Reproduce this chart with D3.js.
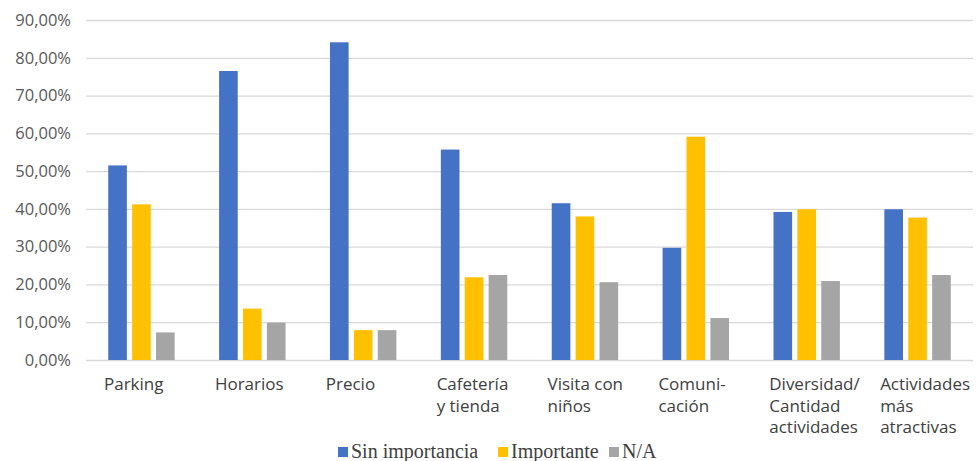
<!DOCTYPE html>
<html>
<head>
<meta charset="utf-8">
<script src="https://cdn.jsdelivr.net/npm/d3@7"></script>
<style>
  html, body { margin: 0; padding: 0; background: #fff; }
  svg { display: block; }
</style>
</head>
<body>
<svg id="chart" width="979" height="461"></svg>
<script>
// Category labels, one entry per text line
const categories = [
  ["Parking"],
  ["Horarios"],
  ["Precio"],
  ["Cafetería", "y tienda"],
  ["Visita con", "niños"],
  ["Comuni-", "cación"],
  ["Diversidad/", "Cantidad", "actividades"],
  ["Actividades", "más", "atractivas"]
];
const seriesNames = ["Sin importancia", "Importante", "N/A"];
const sinImportancia = [51.5, 76.5, 84.1, 55.7, 41.5, 29.7, 39.2, 39.9];
const importante     = [41.2, 13.6,  7.9, 21.9, 38.0, 59.1, 39.9, 37.7];
const noAplica       = [ 7.3,  9.9,  7.9, 22.5, 20.6, 11.1, 20.9, 22.5];
const yTicks = [0, 10, 20, 30, 40, 50, 60, 70, 80, 90];
const colors = ["#4472C4", "#FFC000", "#A5A5A5"];

const series = [sinImportancia, importante, noAplica];
const svg = d3.select("#chart");
const plot = { left: 86, right: 973, top: 20, bottom: 360 };
const sansFont = "'Open Sans', Lato, sans-serif";

const x = d3.scaleBand()
  .domain(d3.range(categories.length))
  .range([plot.left, plot.right])
  .paddingInner(0)
  .paddingOuter(0);

const inner = d3.scaleBand()
  .domain(d3.range(series.length))
  .range([0, x.bandwidth()])
  .paddingInner(0.22)
  .paddingOuter(0.93);

const y = d3.scaleLinear().domain([0, 90]).range([plot.bottom, plot.top]);

// Horizontal gridlines with percentage labels
const yAxis = d3.axisLeft(y)
  .tickValues(yTicks)
  .tickSize(-(plot.right - plot.left))
  .tickPadding(15)
  .tickFormat(d => d.toFixed(2).replace(".", ",") + "%");

const gy = svg.append("g")
  .attr("transform", `translate(${plot.left},0)`)
  .call(yAxis);
gy.select(".domain").remove();
gy.selectAll(".tick line").attr("stroke", "#D9D9D9").attr("stroke-width", 1.3);
gy.selectAll(".tick text")
  .attr("fill", "#595959")
  .style("font-family", sansFont)
  .style("font-size", "16.5px");

// Bars
const groups = svg.append("g").selectAll("g")
  .data(categories.map((c, i) => i))
  .join("g")
  .attr("transform", i => `translate(${x(i)},0)`);

groups.selectAll("rect")
  .data(i => series.map((s, k) => ({ k, v: s[i] })))
  .join("rect")
  .attr("x", d => inner(d.k))
  .attr("width", inner.bandwidth())
  .attr("y", d => y(d.v))
  .attr("height", d => y(0) - y(d.v))
  .attr("fill", d => colors[d.k]);

// Category labels
const labels = svg.append("g")
  .style("font-family", sansFont)
  .style("font-size", "17px")
  .attr("fill", "#404040");

categories.forEach((lines, i) => {
  const t = labels.append("text")
    .attr("x", x(i) + 18)
    .attr("y", 390);
  lines.forEach((line, j) => {
    t.append("tspan")
      .attr("x", x(i) + 18)
      .attr("dy", j === 0 ? 0 : 21.5)
      .text(line);
  });
});

// Legend
const legendX = [338, 498, 609];
const legend = svg.append("g")
  .style("font-family", "'Liberation Serif', 'Times New Roman', serif")
  .style("font-size", "20px")
  .attr("fill", "#404040");

seriesNames.forEach((name, k) => {
  legend.append("rect")
    .attr("x", legendX[k])
    .attr("y", 447)
    .attr("width", 10)
    .attr("height", 10)
    .attr("fill", colors[k]);
  legend.append("text")
    .attr("x", legendX[k] + 13)
    .attr("y", 458)
    .text(name);
});
</script>
</body>
</html>
